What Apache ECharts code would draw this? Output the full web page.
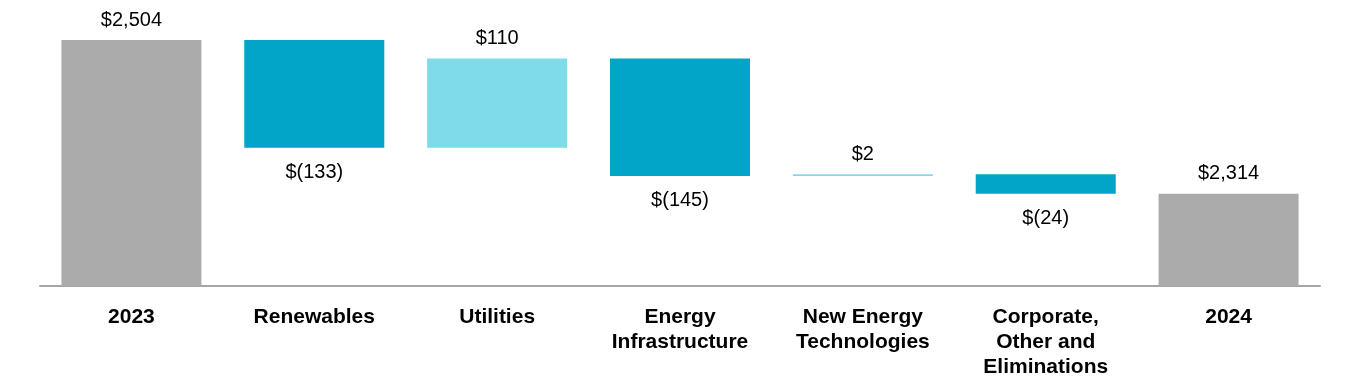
<!DOCTYPE html>
<html>
<head>
<meta charset="utf-8">
<script src="https://cdn.jsdelivr.net/npm/echarts@6/dist/echarts.min.js"></script>
<style>html,body{margin:0;padding:0;background:#fff}#c{width:1360px;height:390px}</style>
</head>
<body>
<div id="c"></div>
<script>
const categories = ['2023', 'Renewables', 'Utilities', 'Energy\nInfrastructure', 'New Energy\nTechnologies', 'Corporate,\nOther and\nEliminations', '2024'];
const changes = [2504, -133, 110, -145, 2, -24, 2314];
const isTotal = [true, false, false, false, false, false, true];

const GRAY = '#ababab', DARK = '#02a4c8', LIGHT = '#80dbe8';

const base = [], visible = [];
let running = 0;
changes.forEach((v, i) => {
  const fmt = v < 0 ? '$(' + Math.abs(v) + ')' : '$' + v.toLocaleString('en-US');
  if (isTotal[i]) {
    base.push(0);
    visible.push({ value: v, itemStyle: { color: GRAY }, label: { position: 'top', distance: 10, formatter: fmt } });
    running = v;
  } else {
    const lo = v < 0 ? running + v : running;
    base.push(lo);
    visible.push({ value: Math.abs(v), itemStyle: { color: v < 0 ? DARK : LIGHT },
      label: { position: v < 0 ? 'bottom' : 'top', distance: v < 0 ? 15 : 10, formatter: fmt } });
    running += v;
  }
});

const chart = echarts.init(document.getElementById('c'));
chart.setOption({
  animation: false,
  grid: { left: 40, right: 40, top: 40, bottom: 104 },
  xAxis: {
    type: 'category', data: categories,
    axisLine: { lineStyle: { color: '#a6a6a6', width: 2 } },
    axisTick: { show: false },
    axisLabel: { interval: 0, margin: 19, color: '#000', fontFamily: 'Liberation Sans, Arial, sans-serif', fontWeight: 'bold', fontSize: 21, lineHeight: 25 }
  },
  yAxis: { type: 'value', min: 2200, max: 2504, show: false, splitLine: { show: false } },
  series: [
    { type: 'bar', stack: 'w', data: base, barWidth: 140, itemStyle: { color: 'transparent' }, silent: true },
    { type: 'bar', stack: 'w', data: visible, barWidth: 140,
      label: { show: true, color: '#000', fontFamily: 'Liberation Sans, Arial, sans-serif', fontSize: 20 } }
  ]
});
</script>
</body>
</html>
